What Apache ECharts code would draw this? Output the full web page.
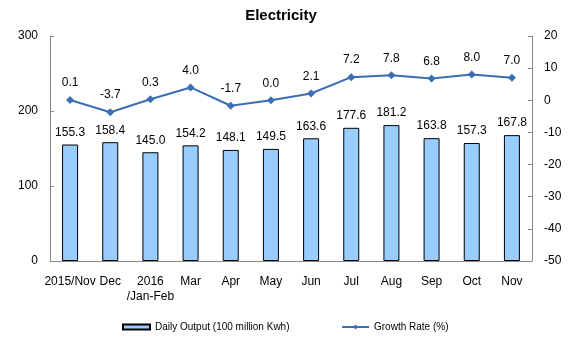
<!DOCTYPE html>
<html>
<head>
<meta charset="utf-8">
<script src="https://cdn.jsdelivr.net/npm/echarts@6/dist/echarts.min.js"></script>
<style>
  html, body { margin: 0; padding: 0; background: #fff; }
  #chart { width: 581px; height: 337px; }
</style>
</head>
<body>
<div id="chart"></div>
<script>
// Monthly electricity output and year-on-year growth
const categories = ['2015/Nov', 'Dec', '2016\n/Jan-Feb', 'Mar', 'Apr', 'May', 'Jun', 'Jul', 'Aug', 'Sep', 'Oct', 'Nov'];
const dailyOutput = [155.3, 158.4, 145.0, 154.2, 148.1, 149.5, 163.6, 177.6, 181.2, 163.8, 157.3, 167.8];
const growthRate = [0.1, -3.7, 0.3, 4.0, -1.7, 0.0, 2.1, 7.2, 7.8, 6.8, 8.0, 7.0];
const outputName = 'Daily Output (100 million Kwh)';
const growthName = 'Growth Rate (%)';

const font = 'Arial, "Liberation Sans", sans-serif';
const axisColor = '#888888';

const chart = echarts.init(document.getElementById('chart'), null, { renderer: 'canvas' });
chart.setOption({
  animation: false,
  backgroundColor: '#ffffff',
  title: {
    text: 'Electricity',
    left: 276,
    top: 3,
    textAlign: 'center',
    textStyle: { fontFamily: font, fontSize: 15, fontWeight: 'bold', color: '#000' }
  },
  legend: [
    {
      data: [{ name: outputName, icon: 'rect' }],
      left: 117,
      top: 317,
      itemWidth: 27,
      itemHeight: 5,
      textStyle: { fontFamily: font, fontSize: 10, color: '#000' }
    },
    {
      data: [growthName],
      left: 336,
      top: 317,
      itemWidth: 27,
      itemHeight: 6,
      textStyle: { fontFamily: font, fontSize: 10, color: '#000' }
    }
  ],
  grid: { left: 50, right: 49, top: 36, bottom: 76, containLabel: false },
  xAxis: {
    type: 'category',
    data: categories,
    axisLine: { lineStyle: { color: axisColor } },
    axisTick: { inside: true, length: 4, lineStyle: { color: axisColor } },
    axisLabel: { color: '#000', fontFamily: font, fontSize: 12, margin: 13, lineHeight: 15, interval: 0 }
  },
  yAxis: [
    {
      type: 'value',
      min: 0, max: 300, interval: 100,
      axisLine: { show: true, lineStyle: { color: axisColor } },
      axisTick: { show: true, inside: true, length: 4, lineStyle: { color: axisColor } },
      splitLine: { show: false },
      axisLabel: { color: '#000', fontFamily: font, fontSize: 12, margin: 12 }
    },
    {
      type: 'value',
      min: -50, max: 20, interval: 10,
      axisLine: { show: true, lineStyle: { color: axisColor } },
      axisTick: { show: true, inside: true, length: 4, lineStyle: { color: axisColor } },
      splitLine: { show: false },
      axisLabel: { color: '#000', fontFamily: font, fontSize: 12, margin: 12, align: 'left' }
    }
  ],
  series: [
    {
      name: outputName,
      type: 'bar',
      yAxisIndex: 0,
      data: dailyOutput,
      barWidth: 16,
      itemStyle: { color: '#99CCFF', borderColor: '#000', borderWidth: 1 },
      label: {
        show: true, position: 'top', distance: 6,
        color: '#000', fontFamily: font, fontSize: 12,
        formatter: p => p.value.toFixed(1)
      }
    },
    {
      name: growthName,
      type: 'line',
      yAxisIndex: 1,
      data: growthRate,
      symbol: 'diamond',
      symbolSize: 8,
      lineStyle: { color: '#3A6EB5', width: 2 },
      itemStyle: { color: '#3A6EB5' },
      label: {
        show: true, position: 'top', distance: 7,
        color: '#000', fontFamily: font, fontSize: 12,
        formatter: p => p.value.toFixed(1)
      }
    }
  ]
});
</script>
</body>
</html>
